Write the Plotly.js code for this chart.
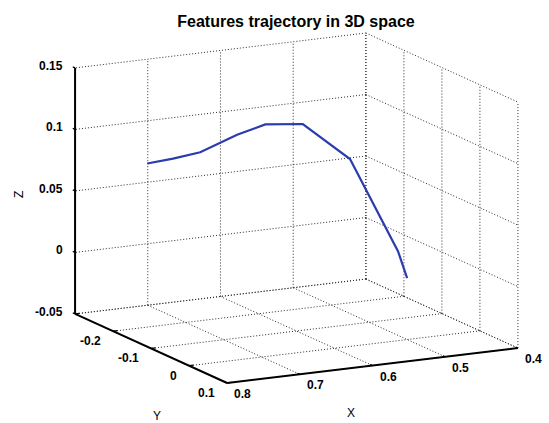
<!DOCTYPE html>
<html>
<head>
<meta charset="utf-8">
<script src="https://cdn.plot.ly/plotly-3.0.1.min.js"></script>
<style>
  html, body { margin: 0; padding: 0; background: #ffffff; }
  #chart { width: 549px; height: 423px; }
</style>
</head>
<body>
<div id="chart"></div>
<script>
// Feature trajectory samples (x, y, z)
const trajX = [0.753, 0.728, 0.701, 0.666, 0.643, 0.607, 0.563, 0.523, 0.521];
const trajY = [-0.20, -0.18, -0.16, -0.13, -0.10, -0.07, -0.03, 0.02, 0.04];
const trajZ = [0.083, 0.088, 0.094, 0.110, 0.121, 0.123, 0.097, 0.026, 0.007];

// Axis limits and ticks
const xLim = [0.4, 0.8];
const yLim = [-0.3, 0.1];
const zLim = [-0.05, 0.15];
const xTicks = [0.4, 0.5, 0.6, 0.7, 0.8];
const xTickText = ['0.4', '0.5', '0.6', '0.7', '0.8'];
const yTicks = [-0.3, -0.2, -0.1, 0, 0.1];
const yTickText = ['', '-0.2', '-0.1', '0', '0.1'];
const zTicks = [-0.05, 0, 0.05, 0.1, 0.15];
const zTickText = ['-0.05', '0', '0.05', '0.1', '0.15'];

// Orthographic 3-D view: azimuth/elevation (deg), box edge lengths and
// box centre in page pixels.
const view = { az: 62.8, el: 13.5, Lx: 327, Ly: 332.6, Lz: 253, cx: 296.5, cy: 208 };
const W = 549, H = 423;

const rad = Math.PI / 180;
const sA = Math.sin(view.az * rad), cA = Math.cos(view.az * rad);
const sE = Math.sin(view.el * rad), cE = Math.cos(view.el * rad);

function proj(x, y, z) {
  const X = ((x - xLim[0]) / (xLim[1] - xLim[0]) - 0.5) * view.Lx;
  const Y = ((y - yLim[0]) / (yLim[1] - yLim[0]) - 0.5) * view.Ly;
  const Z = ((z - zLim[0]) / (zLim[1] - zLim[0]) - 0.5) * view.Lz;
  const right = -sA * X + cA * Y;
  const up = -sE * cA * X - sE * sA * Y + cE * Z;
  return [view.cx + right, view.cy - up];
}

// Build a polyline set (null-separated) from 3-D segments
function segs(list) {
  const px = [], py = [];
  list.forEach(s => {
    const a = proj(s[0], s[1], s[2]);
    const b = proj(s[3], s[4], s[5]);
    px.push(a[0], b[0], null);
    py.push(a[1], b[1], null);
  });
  return { x: px, y: py };
}

const [x0, x1] = xLim, [y0, y1] = yLim, [z0, z1] = zLim;

// Dotted grid on the three back planes
const grid = [];
xTicks.forEach(v => { grid.push([v, y0, z0, v, y1, z0]); grid.push([v, y0, z0, v, y0, z1]); });
yTicks.forEach(v => { grid.push([x0, v, z0, x1, v, z0]); grid.push([x0, v, z0, x0, v, z1]); });
zTicks.forEach(v => { grid.push([x0, y0, v, x1, y0, v]); grid.push([x0, y0, v, x0, y1, v]); });

// Solid axis lines
const axesSegs = [
  [x1, y0, z0, x1, y0, z1],   // Z
  [x1, y0, z0, x1, y1, z0],   // Y
  [x1, y1, z0, x0, y1, z0]    // X
];

// Tick marks
const tx = 0.015 * (x1 - x0), ty = 0.015 * (y1 - y0);
const tickSegs = [];
xTicks.forEach(v => tickSegs.push([v, y1, z0, v, y1 - ty, z0]));
yTicks.forEach(v => tickSegs.push([x1, v, z0, x1 - tx, v, z0]));
zTicks.forEach(v => tickSegs.push([x1, y0, v, x1, y0 - ty, v]));

const g = segs(grid), ax = segs(axesSegs), tk = segs(tickSegs);

const trajPx = [], trajPy = [];
trajX.forEach((v, i) => {
  const p = proj(v, trajY[i], trajZ[i]);
  trajPx.push(p[0]); trajPy.push(p[1]);
});

const data = [
  { type: 'scatter', mode: 'lines', x: g.x, y: g.y,
    line: { color: '#2a2a2a', width: 1, dash: '1px,2px' }, hoverinfo: 'skip' },
  { type: 'scatter', mode: 'lines', x: ax.x, y: ax.y,
    line: { color: '#000000', width: 2 }, hoverinfo: 'skip' },
  { type: 'scatter', mode: 'lines', x: tk.x, y: tk.y,
    line: { color: '#000000', width: 1.2 }, hoverinfo: 'skip' },
  { type: 'scatter', mode: 'lines', x: trajPx, y: trajPy,
    line: { color: '#2b3cae', width: 2.2 }, hoverinfo: 'skip' }
];

const tickFont = { family: 'Liberation Sans, Arial, sans-serif', size: 12, color: '#000', weight: 'bold' };
const annotations = [];

xTicks.forEach((v, i) => {
  const p = proj(v, y1, z0);
  annotations.push({ x: p[0], y: p[1], text: xTickText[i], showarrow: false,
    xanchor: 'left', yanchor: 'middle', xshift: 5, yshift: -11, font: tickFont });
});
yTicks.forEach((v, i) => {
  if (!yTickText[i]) return;
  const p = proj(x1, v, z0);
  annotations.push({ x: p[0], y: p[1], text: yTickText[i], showarrow: false,
    xanchor: 'right', yanchor: 'middle', xshift: -10, yshift: -10, font: tickFont });
});
zTicks.forEach((v, i) => {
  const p = proj(x1, y0, v);
  annotations.push({ x: p[0], y: p[1], text: zTickText[i], showarrow: false,
    xanchor: 'right', yanchor: 'middle', xshift: -10, yshift: 2, font: tickFont });
});

const labelFont = { family: 'Liberation Sans, Arial, sans-serif', size: 12, color: '#000' };
const xm = proj((x0 + x1) / 2, y1, z0);
const ym = proj(x1, (y0 + y1) / 2, z0);
const zm = proj(x1, y0, (z0 + z1) / 2);
annotations.push({ x: xm[0], y: xm[1], text: 'X', showarrow: false,
  xanchor: 'center', yanchor: 'middle', xshift: -22, yshift: -47, font: labelFont });
annotations.push({ x: ym[0], y: ym[1], text: 'Y', showarrow: false,
  xanchor: 'center', yanchor: 'middle', xshift: 6, yshift: -68, font: labelFont });
annotations.push({ x: zm[0], y: zm[1], text: 'Z', showarrow: false, textangle: -90,
  xanchor: 'center', yanchor: 'middle', xshift: -56, yshift: -4, font: labelFont });

const hidden = { visible: false, showgrid: false, zeroline: false, fixedrange: true };

const layout = {
  width: W,
  height: H,
  paper_bgcolor: '#ffffff',
  plot_bgcolor: '#ffffff',
  showlegend: false,
  margin: { l: 0, r: 0, t: 0, b: 0 },
  title: {
    text: '<b>Features trajectory in 3D space</b>',
    font: { family: 'Liberation Sans, Arial, sans-serif', size: 16, color: '#000' },
    x: 296 / W, xanchor: 'center', y: 1 - 21 / H, yanchor: 'middle'
  },
  xaxis: Object.assign({ range: [0, W] }, hidden),
  yaxis: Object.assign({ range: [H, 0] }, hidden),
  annotations: annotations
};

Plotly.newPlot('chart', data, layout, { displayModeBar: false, staticPlot: true });
</script>
</body>
</html>
